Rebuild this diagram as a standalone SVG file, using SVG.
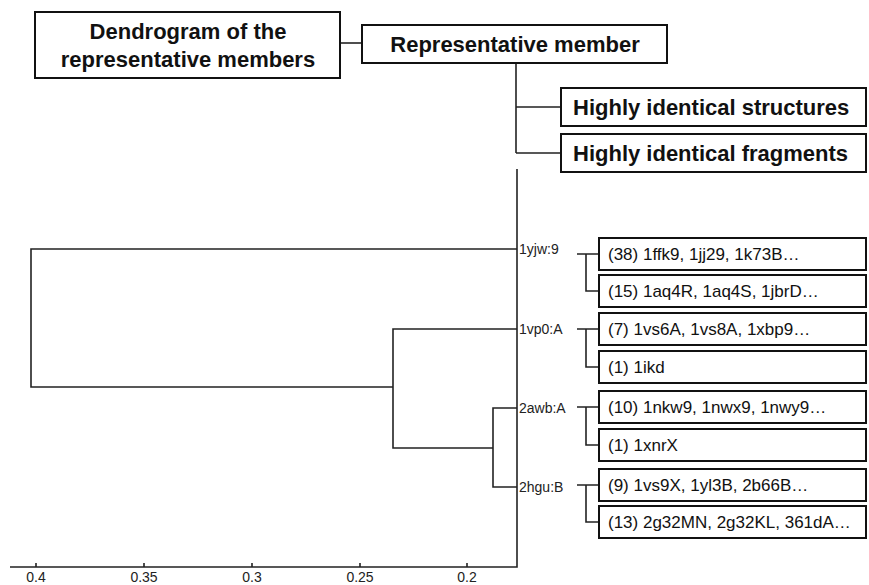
<svg xmlns="http://www.w3.org/2000/svg" width="869" height="585" viewBox="0 0 869 585">
<style>
  .box { fill: #fff; stroke: #111; stroke-width: 2; }
  .hdr { font-family: "Liberation Sans", Arial, sans-serif; font-weight: bold; font-size: 22px; fill: #111; }
  .leaf { font-family: "Liberation Sans", Arial, sans-serif; font-size: 17px; fill: #111; }
  .lbl { font-family: "Liberation Sans", Arial, sans-serif; font-size: 14px; fill: #222; }
  .ax { font-family: "Liberation Sans", Arial, sans-serif; font-size: 14px; fill: #222; text-anchor: middle; }
  .ln { fill: none; stroke: #222; stroke-width: 1.6; }
</style>
<rect width="869" height="585" fill="#fff"/>

<g id="connectors">
  <path class="ln" d="M340 43 H362"/>
  <path class="ln" d="M516 63 V153 M516 107 H561 M516 153 H561"/>
  <!-- dendrogram -->
  <path class="ln" d="M517 249 H31 V387 H393"/>
  <path class="ln" d="M517 329 H393 V448 H493"/>
  <path class="ln" d="M517 408 H493 V487 H517"/>
  <!-- axis -->
  <path class="ln" d="M517 169 V567 H10"/>
  <path class="ln" d="M36 567 v-4 M144 567 v-4 M252 567 v-4 M360 567 v-4 M467 567 v-4"/>
  <!-- leaf pair connectors -->
  <path class="ln" d="M577 254 H599 M586 254 V291 H599"/>
  <path class="ln" d="M577 329 H599 M586 329 V367 H599"/>
  <path class="ln" d="M577 407 H599 M586 407 V445 H599"/>
  <path class="ln" d="M577 485 H599 M586 485 V522 H599"/>
</g>

<g id="axis-labels">
  <text class="ax" x="36" y="582">0.4</text>
  <text class="ax" x="144" y="582">0.35</text>
  <text class="ax" x="252" y="582">0.3</text>
  <text class="ax" x="360" y="582">0.25</text>
  <text class="ax" x="467" y="582">0.2</text>
</g>

<g id="legend-dendrogram">
  <rect class="box" x="35" y="12" width="305" height="66"/>
  <text class="hdr" x="188" y="39" text-anchor="middle">Dendrogram of the</text>
  <text class="hdr" x="188" y="67" text-anchor="middle">representative members</text>
</g>
<g id="legend-representative">
  <rect class="box" x="362" y="25" width="305" height="38"/>
  <text class="hdr" x="515" y="52" text-anchor="middle">Representative member</text>
</g>
<g id="legend-structures">
  <rect class="box" x="561" y="88" width="305" height="38"/>
  <text class="hdr" x="573" y="115">Highly identical structures</text>
</g>
<g id="legend-fragments">
  <rect class="box" x="561" y="134" width="305" height="38"/>
  <text class="hdr" x="573" y="161">Highly identical fragments</text>
</g>

<g id="rep-1yjw9"><text class="lbl" x="519" y="254">1yjw:9</text></g>
<g id="rep-1vp0A"><text class="lbl" x="519" y="334">1vp0:A</text></g>
<g id="rep-2awbA"><text class="lbl" x="519" y="413">2awb:A</text></g>
<g id="rep-2hguB"><text class="lbl" x="519" y="492">2hgu:B</text></g>

<g id="leaf-1"><rect class="box" x="599" y="238" width="267" height="32"/><text class="leaf" x="608" y="260">(38) 1ffk9, 1jj29, 1k73B…</text></g>
<g id="leaf-2"><rect class="box" x="599" y="275" width="267" height="32"/><text class="leaf" x="608" y="297">(15) 1aq4R, 1aq4S, 1jbrD…</text></g>
<g id="leaf-3"><rect class="box" x="599" y="313" width="267" height="32"/><text class="leaf" x="608" y="335">(7) 1vs6A, 1vs8A, 1xbp9…</text></g>
<g id="leaf-4"><rect class="box" x="599" y="351" width="267" height="32"/><text class="leaf" x="608" y="373">(1) 1ikd</text></g>
<g id="leaf-5"><rect class="box" x="599" y="391" width="267" height="32"/><text class="leaf" x="608" y="413">(10) 1nkw9, 1nwx9, 1nwy9…</text></g>
<g id="leaf-6"><rect class="box" x="599" y="429" width="267" height="32"/><text class="leaf" x="608" y="451">(1) 1xnrX</text></g>
<g id="leaf-7"><rect class="box" x="599" y="469" width="267" height="32"/><text class="leaf" x="608" y="491">(9) 1vs9X, 1yl3B, 2b66B…</text></g>
<g id="leaf-8"><rect class="box" x="599" y="506" width="267" height="32"/><text class="leaf" x="608" y="528">(13) 2g32MN, 2g32KL, 361dA…</text></g>
</svg>
